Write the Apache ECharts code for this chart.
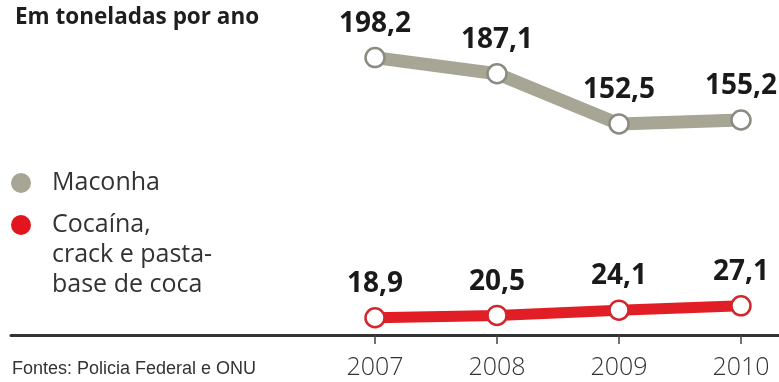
<!DOCTYPE html>
<html>
<head>
<meta charset="utf-8">
<script src="https://cdn.jsdelivr.net/npm/echarts@6/dist/echarts.min.js"></script>
<style>
html,body{margin:0;padding:0;background:#fff;}
#chart{width:779px;height:382px;}
</style>
</head>
<body>
<div id="chart"></div>
<script>
const years = [2007, 2008, 2009, 2010];
const maconha = [198.2, 187.1, 152.5, 155.2];
const cocaina = [18.9, 20.5, 24.1, 27.1];
const seriesNames = ['Maconha', 'Cocaína, crack e pasta-base de coca'];
const titleText = 'Em toneladas por ano';
const sourceText = 'Fontes: Policia Federal e ONU';

const fmt = v => String(v).replace('.', ',');
const pairs = arr => years.map((y, i) => [y, arr[i]]);

const chart = echarts.init(document.getElementById('chart'));
const labelStyle = {
  show: true, position: 'top', fontFamily: 'Open Sans', fontWeight: 'bold',
  fontSize: 28, color: '#1a1a1a', formatter: p => fmt(p.value[1])
};
chart.setOption({
  animation: false,
  backgroundColor: '#ffffff',
  title: {
    text: titleText, left: 10, top: 1,
    textStyle: { fontFamily: 'Open Sans', fontWeight: 'bold', fontSize: 22.5, color: '#1e1e1e' }
  },
  legend: [{
    orient: 'vertical', left: 11, top: 168, padding: 0,
    itemWidth: 20, itemHeight: 20, selectedMode: false,
    data: [{ name: seriesNames[0], icon: 'circle', itemStyle: { color: '#a7a594', borderWidth: 0 } }],
    textStyle: { fontFamily: 'Open Sans', fontSize: 25, color: '#333', lineHeight: 30, padding: [0, 0, 0, 16] }
  }, {
    orient: 'vertical', left: 11, top: 150, padding: 0,
    itemWidth: 20, itemHeight: 20, selectedMode: false,
    data: [{ name: seriesNames[1], icon: 'circle', itemStyle: { color: '#e2141d', borderWidth: 0 } }],
    formatter: () => ' \n \nCocaína,\ncrack e pasta-\nbase de coca',
    textStyle: { fontFamily: 'Open Sans', fontSize: 25, color: '#333', lineHeight: 30, padding: [0, 0, 0, 16] }
  }],
  graphic: [{
    type: 'text', left: 12, top: 360,
    style: { text: sourceText, font: '18px "Liberation Sans Narrow", "Arial Narrow", sans-serif', fill: '#333' }
  }],
  grid: { left: 11, right: 0, top: 55, bottom: 47 },
  xAxis: {
    type: 'value', min: 2004.0164, max: 2010.3115,
    axisLine: { show: true, onZero: false, lineStyle: { color: '#333', width: 3 } },
    axisTick: { show: true, customValues: years, length: 9, lineStyle: { color: '#444', width: 1.5 } },
    axisLabel: {
      customValues: years, margin: 20, formatter: v => String(v),
      fontFamily: 'Open Sans', fontWeight: 300, fontSize: 25, color: '#333'
    },
    splitLine: { show: false }
  },
  yAxis: { type: 'value', min: 7, max: 200, show: false },
  series: [{
    name: seriesNames[0], type: 'line', data: pairs(maconha),
    symbol: 'circle', symbolSize: 19, z: 3,
    lineStyle: { color: '#a7a594', width: 13 },
    itemStyle: { color: '#ffffff', borderColor: '#8c8b82', borderWidth: 2.5 },
    label: Object.assign({}, labelStyle, { distance: 9 })
  }, {
    name: seriesNames[1], type: 'line', data: pairs(cocaina),
    symbol: 'circle', symbolSize: 19, z: 3,
    lineStyle: { color: '#e11d25', width: 11 },
    itemStyle: { color: '#ffffff', borderColor: '#d3262c', borderWidth: 2.5 },
    label: Object.assign({}, labelStyle, { distance: 9 })
  }]
});
</script>
</body>
</html>
